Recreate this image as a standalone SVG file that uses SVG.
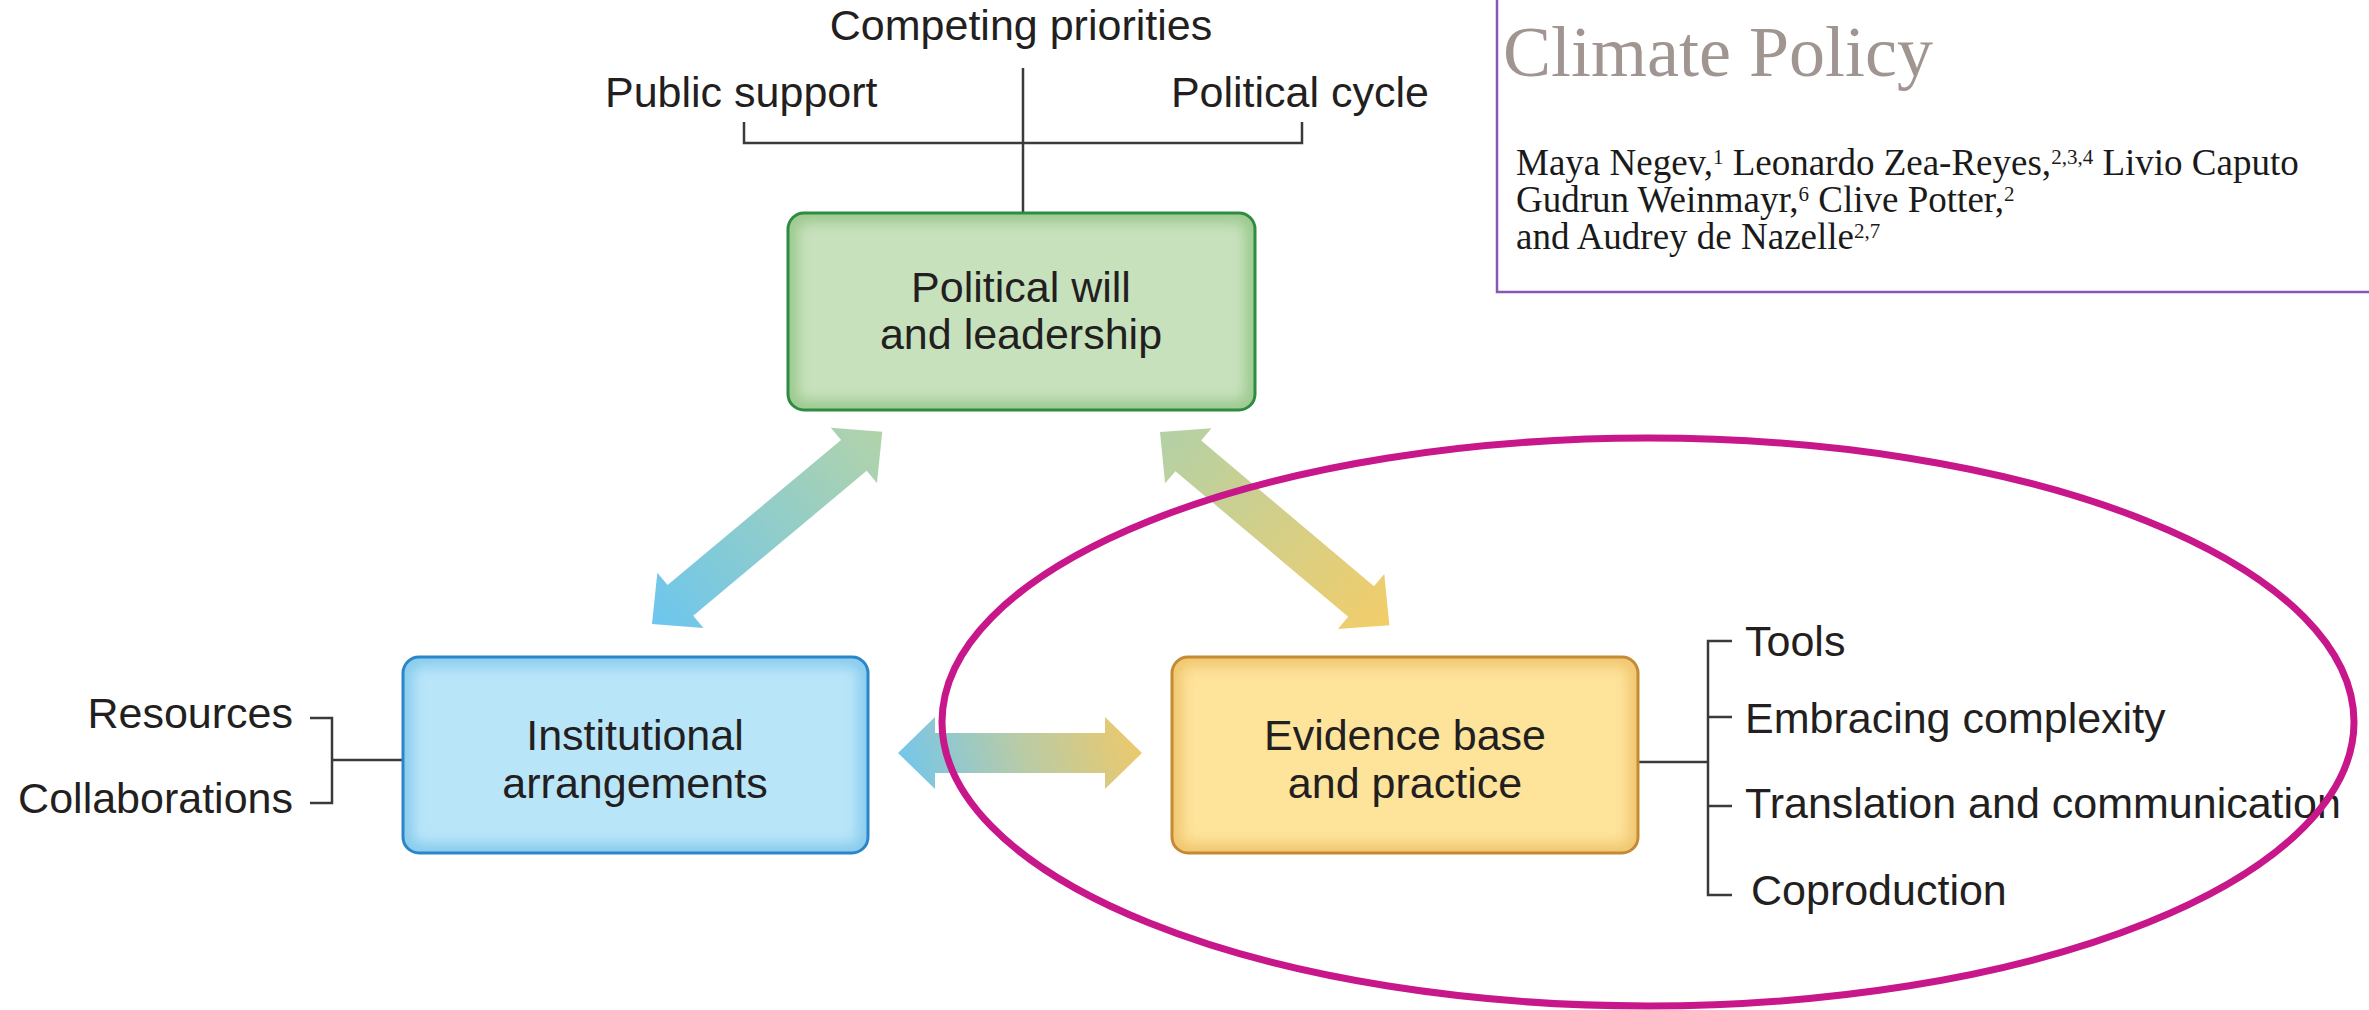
<svg xmlns="http://www.w3.org/2000/svg" width="2369" height="1010" viewBox="0 0 2369 1010">
<style>
.lbl{font-family:"Liberation Sans",Arial,sans-serif;font-size:43px;fill:#231F20}
.ctr{text-anchor:middle}
.end{text-anchor:end}
.ln{stroke:#3A3A3A;stroke-width:2.5;fill:none}
.ser{font-family:"Liberation Serif","Times New Roman",serif}
.auth{font-size:37px;fill:#1A1A1A}
.sup{font-size:21px}
</style>
<defs>
<filter id="blur" x="-10%" y="-10%" width="120%" height="120%"><feGaussianBlur stdDeviation="7"/></filter>
<clipPath id="cG"><rect x="788" y="213" width="467" height="197" rx="16"/></clipPath>
<clipPath id="cB"><rect x="403" y="657" width="465" height="196" rx="16"/></clipPath>
<clipPath id="cO"><rect x="1172" y="657" width="466" height="196" rx="16"/></clipPath>
<linearGradient id="gL" gradientUnits="userSpaceOnUse" x1="0" y1="0" x2="300" y2="0">
<stop offset="0" stop-color="#6CC6EE"/><stop offset="1" stop-color="#B2D3A9"/></linearGradient>
<linearGradient id="gR" gradientUnits="userSpaceOnUse" x1="0" y1="0" x2="300" y2="0">
<stop offset="0" stop-color="#B3D1A7"/><stop offset="1" stop-color="#F3CD69"/></linearGradient>
<linearGradient id="gH" gradientUnits="userSpaceOnUse" x1="905" y1="790" x2="1140" y2="717">
<stop offset="0" stop-color="#72C6EC"/><stop offset="0.5" stop-color="#B9CBA6"/><stop offset="1" stop-color="#EFC967"/></linearGradient>
</defs>

<g id="climate-policy-box">
<rect x="1497" y="-10" width="900" height="302" fill="#FFFFFF" stroke="#8956B6" stroke-width="2.5"/>
<text class="ser" x="1503" y="76" font-size="72" fill="#A09591">Climate Policy</text>
<text class="ser auth" x="1516" y="175">Maya Negev,<tspan class="sup" dy="-11">1</tspan><tspan dy="11"> Leonardo Zea-Reyes,</tspan><tspan class="sup" dy="-11">2,3,4</tspan><tspan dy="11"> Livio Caputo</tspan></text>
<text class="ser auth" x="1516" y="212">Gudrun Weinmayr,<tspan class="sup" dy="-11">6</tspan><tspan dy="11"> Clive Potter,</tspan><tspan class="sup" dy="-11">2</tspan></text>
<text class="ser auth" x="1516" y="249">and Audrey de Nazelle<tspan class="sup" dy="-11">2,7</tspan></text>
</g>

<g id="connectors">
<path class="ln" d="M1023,68 V213 M744,122 V143 H1302 V122"/>
<path class="ln" d="M310,718 H332 V803 H310 M332,760 H403"/>
<path class="ln" d="M1638,762 H1708 M1732,641 H1708 V895 H1732 M1708,717 H1732 M1708,806 H1732"/>
<path fill="url(#gL)" transform="translate(652 624) rotate(-39.86)" d="M0,0 L37,-36 L37,-20 L263,-20 L263,-36 L300,0 L263,36 L263,20 L37,20 L37,36 Z"/>
<path fill="url(#gR)" transform="translate(1160 432) rotate(40.13)" d="M0,0 L37,-36 L37,-20 L263,-20 L263,-36 L300,0 L263,36 L263,20 L37,20 L37,36 Z"/>
<path fill="url(#gH)" d="M898,753 L935,717 L935,733 L1105,733 L1105,717 L1142,753 L1105,789 L1105,773 L935,773 L935,789 Z"/>
</g>

<g id="labels-top">
<text class="lbl ctr" x="1021" y="40">Competing priorities</text>
<text class="lbl" x="605" y="107">Public support</text>
<text class="lbl end" x="1429" y="107">Political cycle</text>
</g>

<g id="node-political-will">
<rect x="788" y="213" width="467" height="197" rx="16" fill="#C8E1BD"/>
<rect x="788" y="213" width="467" height="197" rx="16" fill="none" stroke="#98C78A" stroke-width="18" filter="url(#blur)" clip-path="url(#cG)"/>
<rect x="788" y="213" width="467" height="197" rx="16" fill="none" stroke="#2D8C41" stroke-width="3"/>
<text class="lbl ctr" x="1021" y="302">Political will</text>
<text class="lbl ctr" x="1021" y="349">and leadership</text>
</g>

<g id="node-institutional">
<rect x="403" y="657" width="465" height="196" rx="16" fill="#B9E5F9"/>
<rect x="403" y="657" width="465" height="196" rx="16" fill="none" stroke="#84C9EC" stroke-width="18" filter="url(#blur)" clip-path="url(#cB)"/>
<rect x="403" y="657" width="465" height="196" rx="16" fill="none" stroke="#2A86C8" stroke-width="3"/>
<text class="lbl ctr" x="635" y="750">Institutional</text>
<text class="lbl ctr" x="635" y="798">arrangements</text>
</g>

<g id="node-evidence">
<rect x="1172" y="657" width="466" height="196" rx="16" fill="#FEE39B"/>
<rect x="1172" y="657" width="466" height="196" rx="16" fill="none" stroke="#EFC46C" stroke-width="18" filter="url(#blur)" clip-path="url(#cO)"/>
<rect x="1172" y="657" width="466" height="196" rx="16" fill="none" stroke="#C58A34" stroke-width="3"/>
<text class="lbl ctr" x="1405" y="750">Evidence base</text>
<text class="lbl ctr" x="1405" y="798">and practice</text>
</g>

<g id="labels-left">
<text class="lbl end" x="293" y="728">Resources</text>
<text class="lbl end" x="293" y="813">Collaborations</text>
</g>

<g id="labels-right">
<text class="lbl" x="1745" y="656">Tools</text>
<text class="lbl" x="1745" y="733">Embracing complexity</text>
<text class="lbl" x="1745" y="818">Translation and communication</text>
<text class="lbl" x="1751" y="905">Coproduction</text>
</g>

<g id="highlight-ellipse">
<ellipse cx="1648" cy="722" rx="706" ry="284" fill="none" stroke="#C8178A" stroke-width="7"/>
</g>
</svg>
